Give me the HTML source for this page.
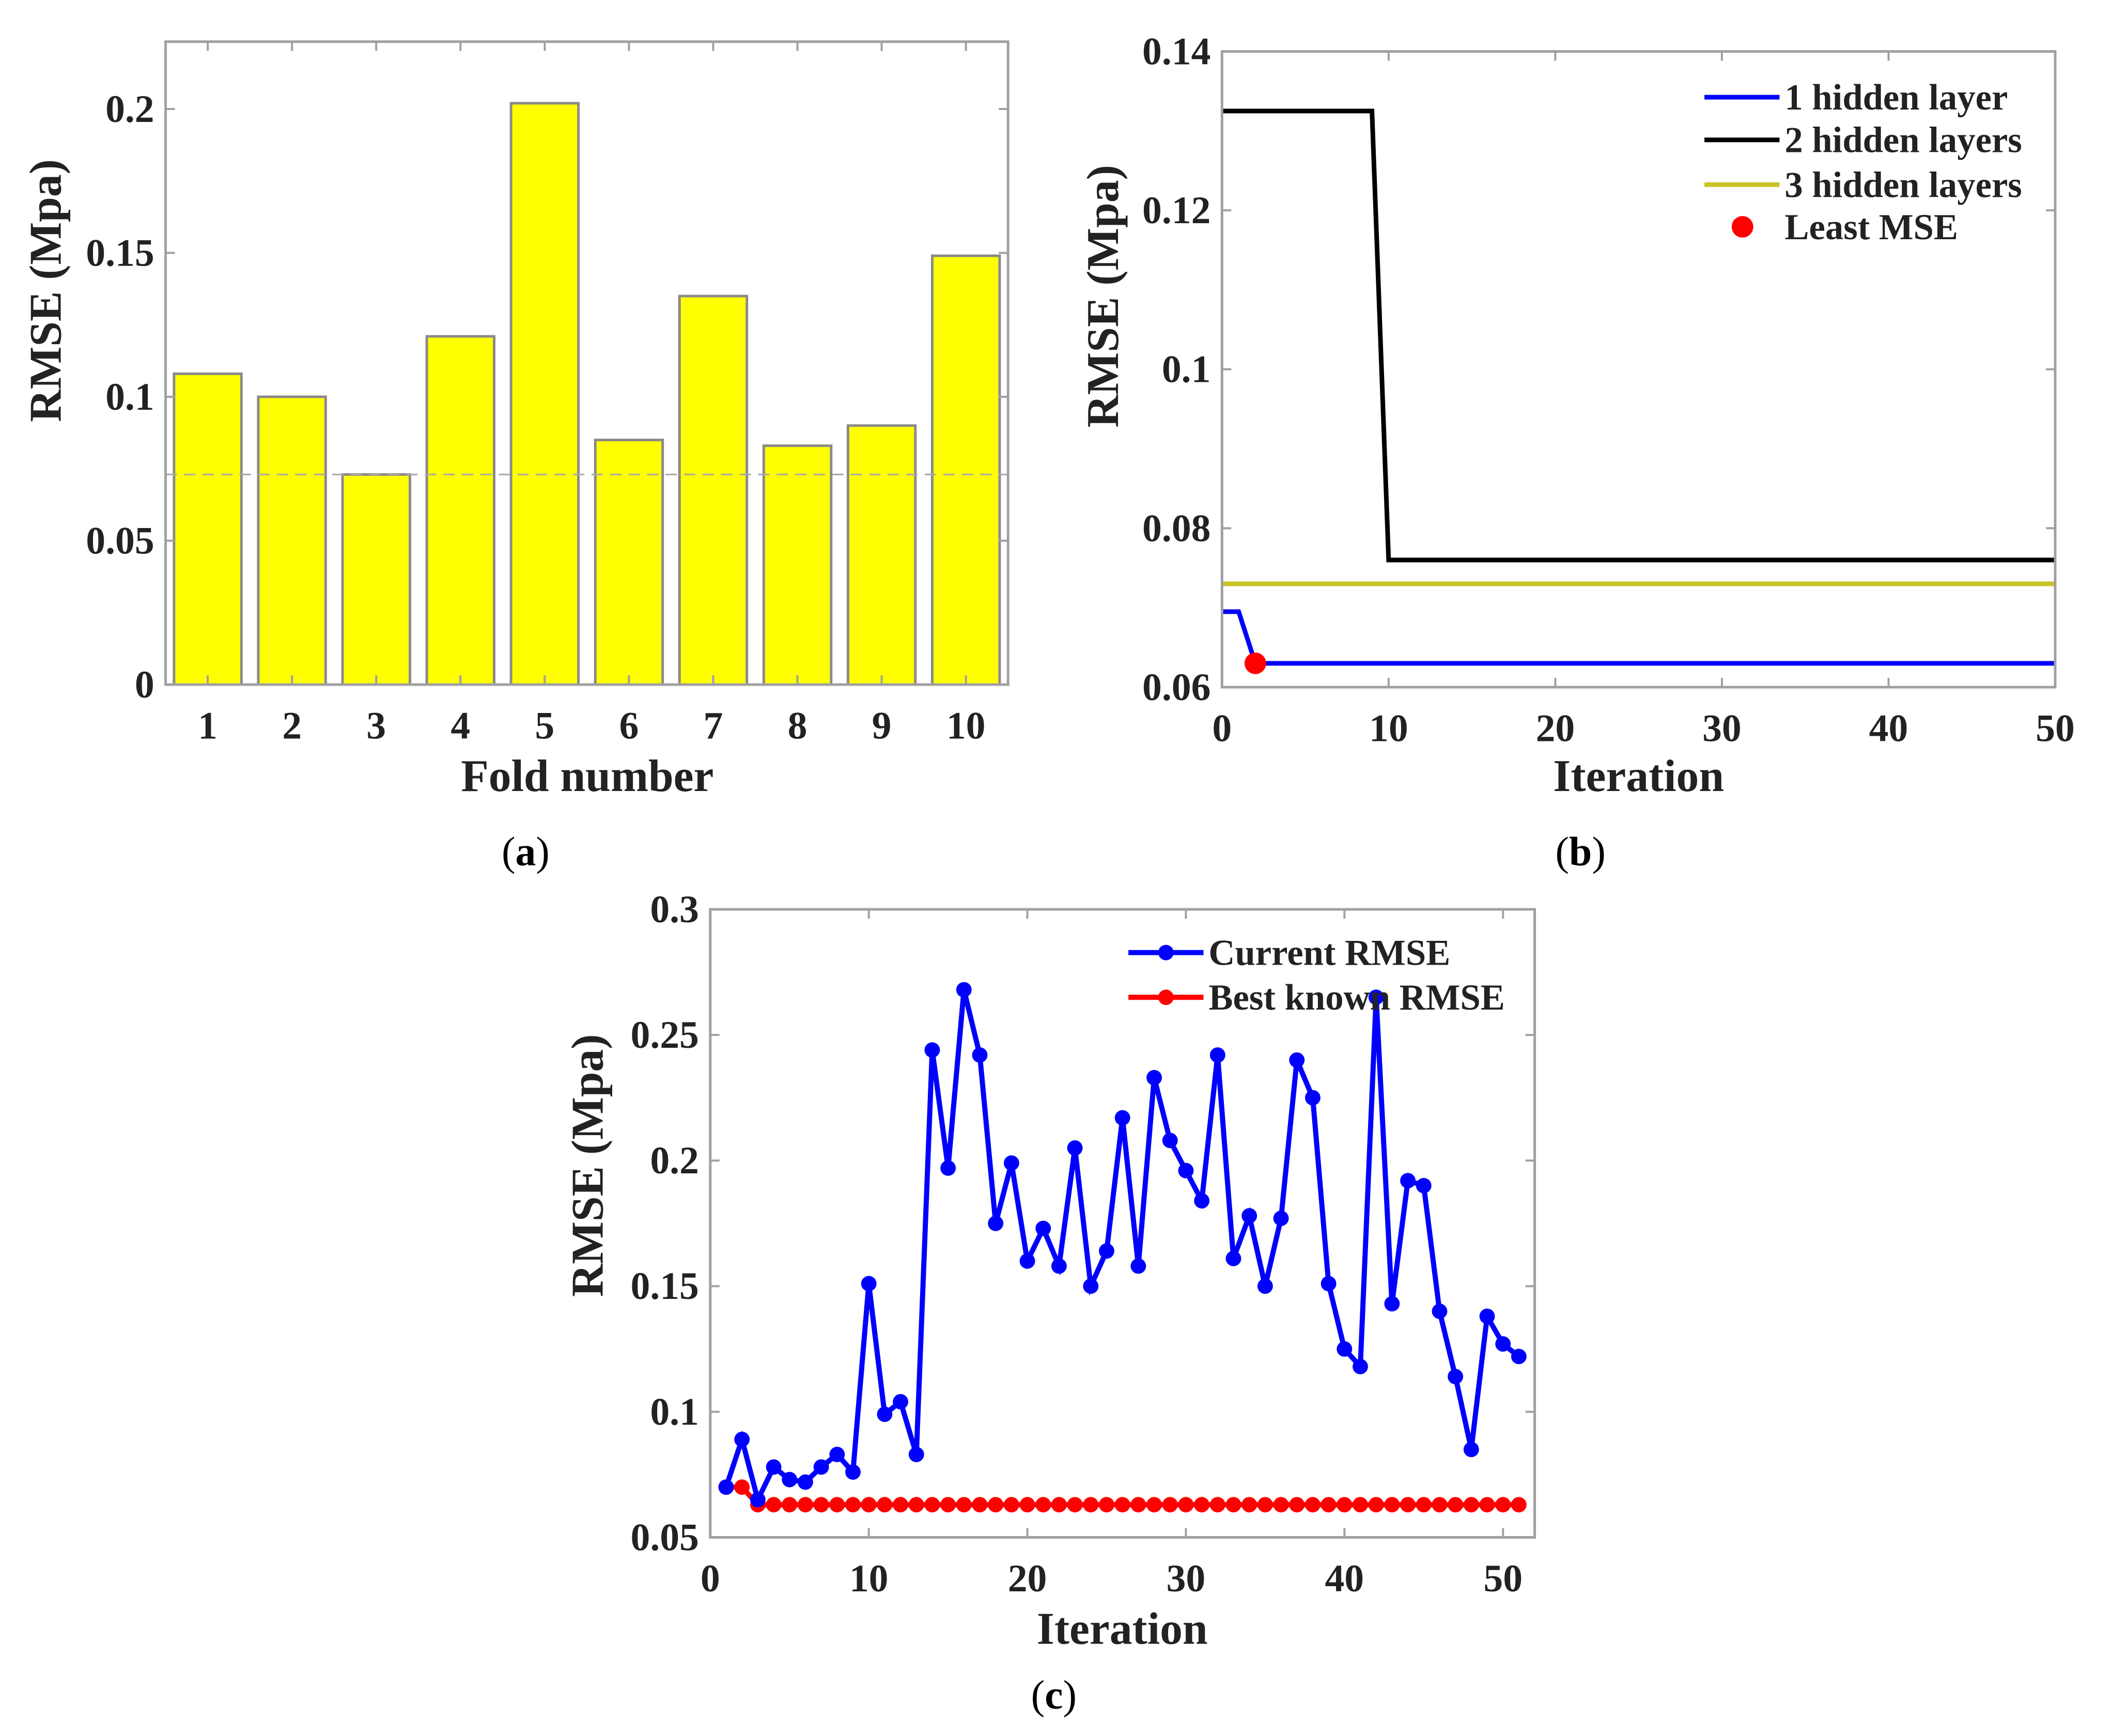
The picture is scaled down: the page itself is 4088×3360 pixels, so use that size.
<!DOCTYPE html>
<html><head><meta charset="utf-8">
<style>
html,body{margin:0;padding:0;background:#fff;}
svg{display:block;}
text{font-family:"Liberation Serif",serif;}
</style></head>
<body>
<svg width="4088" height="3360" viewBox="0 0 4088 3360" xmlns="http://www.w3.org/2000/svg">
<rect width="4088" height="3360" fill="#fff"/>
<g id="fig" transform="scale(0.9955)"></g>
</svg>
<script>
// Panel (a) data
const foldCategories = [1,2,3,4,5,6,7,8,9,10];
const foldRmse = [0.108,0.100,0.073,0.121,0.202,0.085,0.135,0.083,0.090,0.149];
const foldRefLine = 0.073;
const aYTicks = [0,0.05,0.1,0.15,0.2];
const aYTickLabels = ["0","0.05","0.1","0.15","0.2"];

// Panel (b) data
const bIter1 = [0,1,2,50];
const bVal1 = [0.0695,0.0695,0.063,0.063];
const bIter2 = [0,9,10,50];
const bVal2 = [0.1325,0.1325,0.076,0.076];
const bIter3 = [0,50];
const bVal3 = [0.073,0.073];
const bLeastX = [2];
const bLeastY = [0.063];
const bXTicks = [0,10,20,30,40,50];
const bYTicks = [0.06,0.08,0.1,0.12,0.14];
const bYTickLabels = ["0.06","0.08","0.1","0.12","0.14"];

// Panel (c) data
const cCurrent = [0.070,0.089,0.065,0.078,0.073,0.072,0.078,0.083,0.076,0.151,0.099,0.104,0.083,0.244,0.197,0.268,0.242,0.175,0.199,0.160,0.173,0.158,0.205,0.150,0.164,0.217,0.158,0.233,0.208,0.196,0.184,0.242,0.161,0.178,0.150,0.177,0.240,0.225,0.151,0.125,0.118,0.265,0.143,0.192,0.190,0.140,0.114,0.085,0.138,0.127,0.122];
const cBest = [0.070,0.070,0.063,0.063,0.063,0.063,0.063,0.063,0.063,0.063,0.063,0.063,0.063,0.063,0.063,0.063,0.063,0.063,0.063,0.063,0.063,0.063,0.063,0.063,0.063,0.063,0.063,0.063,0.063,0.063,0.063,0.063,0.063,0.063,0.063,0.063,0.063,0.063,0.063,0.063,0.063,0.063,0.063,0.063,0.063,0.063,0.063,0.063,0.063,0.063,0.063];
const cXTicks = [0,10,20,30,40,50];
const cYTicks = [0.05,0.1,0.15,0.2,0.25,0.3];
const cYTickLabels = ["0.05","0.1","0.15","0.2","0.25","0.3"];

const NS="http://www.w3.org/2000/svg";
const svg=document.getElementById('fig');
function mk(tag,attrs,parent,txt){const e=document.createElementNS(NS,tag);for(const k in attrs)e.setAttribute(k,attrs[k]);if(txt!==undefined)e.textContent=txt;(parent||svg).appendChild(e);return e;}
function scale(d0,d1,r0,r1){return v=>r0+(v-d0)/(d1-d0)*(r1-r0);}

function axesFrame(g,L,R,T,B,xs,xt,ys,yt,ytl,xtl){
  const box=mk('rect',{x:L,y:T,width:R-L,height:B-T,fill:'none',stroke:'#a0a0a0','stroke-width':5},g);
  
  xt.forEach((v,i)=>{const x=xs(v);
    mk('line',{x1:x,y1:B,x2:x,y2:B-18,stroke:'#a0a0a0','stroke-width':4},g);
    mk('line',{x1:x,y1:T,x2:x,y2:T+18,stroke:'#a0a0a0','stroke-width':4},g);
    const t=mk('text',{x:x,y:B+105,'font-size':76,'font-weight':'bold','text-anchor':'middle',fill:'#222'},g,xtl?xtl[i]:String(v));
    });
  yt.forEach((v,i)=>{const y=ys(v);
    mk('line',{x1:L,y1:y,x2:L+18,y2:y,stroke:'#a0a0a0','stroke-width':4},g);
    mk('line',{x1:R,y1:y,x2:R-18,y2:y,stroke:'#a0a0a0','stroke-width':4},g);
    const t=mk('text',{x:L-22,y:y+25,'font-size':76,'font-weight':'bold','text-anchor':'end',fill:'#222'},g,ytl[i]);
    });
}
function label(g,x,y,s,size,name,rot){
  const t=mk('text',{x:x,y:y,'font-size':size,'font-weight':'bold','text-anchor':'middle',fill:'#222'},g,s);
  if(rot)t.setAttribute('transform','rotate(-90 '+x+' '+y+')');
  return t;}
function panelLabel(g,x,y,l,name){
  const t=mk('text',{x:x,y:y,'font-size':80,'text-anchor':'middle',fill:'#000'},g);
  
  mk('tspan',{},t,'(');mk('tspan',{'font-weight':'bold'},t,l);mk('tspan',{},t,')');}

// ---------- Panel A ----------
{
const g=mk('g',{});
const L=322,R=1960,T=81,B=1331;
const xs=scale(0.5,10.5,L,R), ys=scale(0,0.2234,B,T);
const bw=(xs(1)-xs(0))*0.8;
foldCategories.forEach((c,i)=>{
  const r=mk('rect',{x:xs(c)-bw/2,y:ys(foldRmse[i]),width:bw,height:ys(0)-ys(foldRmse[i]),fill:'#ffff00',stroke:'#8a8a8a','stroke-width':5},g);
  });
const dl=mk('line',{x1:L,y1:ys(foldRefLine),x2:R,y2:ys(foldRefLine),stroke:'#a8a8a8','stroke-width':3,'stroke-dasharray':'22 14'},g);

axesFrame(g,L,R,T,B,xs,foldCategories,ys,aYTicks,aYTickLabels);
label(g,1142,1538,'Fold number',88,'x-axis-title');
label(g,118,565,'RMSE (Mpa)',88,'y-axis-title',true);
panelLabel(g,1022,1682,'a','panel-label-a');
}

// ---------- Panel B ----------
{
const g=mk('g',{});
const L=2376,R=3996,T=100,B=1336;
const xs=scale(0,50,L,R), ys=scale(0.06,0.14,B,T);
function pl(xa,ya,col,name){const p=mk('polyline',{points:xa.map((x,i)=>xs(x)+','+ys(ya[i])).join(' '),fill:'none',stroke:col,'stroke-width':9},g);
  }
pl(bIter3,bVal3,'#c8c424','line-3-hidden-layers');
pl(bIter2,bVal2,'#000','line-2-hidden-layers');
pl(bIter1,bVal1,'#0000ff','line-1-hidden-layer');
bLeastX.forEach((x,i)=>{const c=mk('circle',{cx:xs(x),cy:ys(bLeastY[i]),r:21,fill:'#ff0000'},g);
  });
axesFrame(g,L,R,T,B,xs,bXTicks,ys,bYTicks,bYTickLabels);
label(g,3186,1538,'Iteration',88,'x-axis-title');
label(g,2174,576,'RMSE  (Mpa)',88,'y-axis-title',true);
panelLabel(g,3073,1682,'b','panel-label-b');
const lg=mk('g',{},g);
const items=[['1 hidden layer','#0000ff',189],['2 hidden layers','#000',272],['3 hidden layers','#c8c424',359]];
items.forEach(it=>{const e=mk('g',{},lg);
  mk('line',{x1:3314,y1:it[2],x2:3460,y2:it[2],stroke:it[1],'stroke-width':9},e);
  mk('text',{x:3470,y:it[2]+24,'font-size':71,'font-weight':'bold',fill:'#222'},e,it[0]);});
const e4=mk('g',{},lg);
mk('circle',{cx:3388,cy:441,r:21,fill:'#ff0000'},e4);
mk('text',{x:3470,y:465,'font-size':71,'font-weight':'bold',fill:'#222'},e4,'Least MSE');
}

// ---------- Panel C ----------
{
const g=mk('g',{});
const L=1381,R=2984,T=1768,B=2989;
const xs=scale(0,52,L,R), ys=scale(0.05,0.3,B,T);
function series(vals,col,name){
  const sg=mk('g',{},g);
  mk('polyline',{points:vals.map((v,i)=>xs(i+1)+','+ys(v)).join(' '),fill:'none',stroke:col,'stroke-width':10},sg);
  vals.forEach((v,i)=>{const c=mk('circle',{cx:xs(i+1),cy:ys(v),r:15,fill:col},sg);
    });}
series(cBest,'#ff0000','best-known-rmse-series');
series(cCurrent,'#0000ff','current-rmse-series');
axesFrame(g,L,R,T,B,xs,cXTicks,ys,cYTicks,cYTickLabels);
label(g,2182,3196,'Iteration',88,'x-axis-title');
label(g,1172,2266,'RMSE  (Mpa)',88,'y-axis-title',true);
panelLabel(g,2049,3322,'c','panel-label-c');
const lg=mk('g',{},g);
[['Current RMSE','#0000ff',1852],['Best known RMSE','#ff0000',1939]].forEach(it=>{
  const e=mk('g',{},lg);
  mk('line',{x1:2194,y1:it[2],x2:2340,y2:it[2],stroke:it[1],'stroke-width':10},e);
  mk('circle',{cx:2267,cy:it[2],r:15,fill:it[1]},e);
  mk('text',{x:2350,y:it[2]+24,'font-size':71,'font-weight':'bold',fill:'#222'},e,it[0]);});
}
</script>
</body></html>
